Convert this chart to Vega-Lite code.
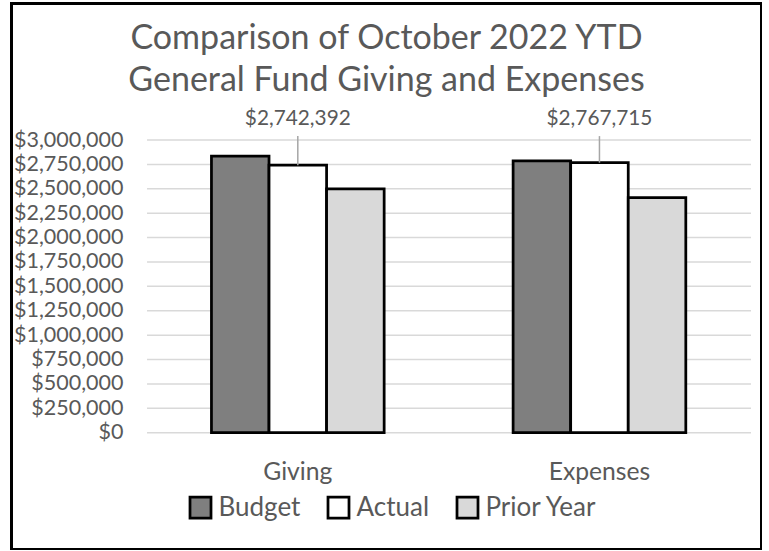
{
  "$schema": "https://vega.github.io/schema/vega-lite/v6.json",
  "autosize": {"type": "none"},
  "padding": {"left": 11.5, "top": 3.5, "right": 0, "bottom": 0},
  "width": 750,
  "height": 546,
  "background": "white",
  "config": {
    "view": {"stroke": "black", "strokeWidth": 3},
    "font": "Lato"
  },
  "title": {
    "text": ["Comparison of October 2022 YTD", "General Fund Giving and Expenses"],
    "fontSize": 34,
    "font": "Lato",
    "fontWeight": "normal",
    "color": "#595959",
    "lineHeight": 42,
    "anchor": "middle",
    "frame": "group",
    "baseline": "alphabetic",
    "offset": -121
  },
  "datasets": {
    "bars": [
      {"category": "Giving", "series": "Budget", "amount": 2836000},
      {"category": "Giving", "series": "Actual", "amount": 2742392},
      {"category": "Giving", "series": "Prior Year", "amount": 2500000},
      {"category": "Expenses", "series": "Budget", "amount": 2785000},
      {"category": "Expenses", "series": "Actual", "amount": 2767715},
      {"category": "Expenses", "series": "Prior Year", "amount": 2409000}
    ],
    "grid": [
      {"tick": 0}, {"tick": 250000}, {"tick": 500000}, {"tick": 750000},
      {"tick": 1000000}, {"tick": 1250000}, {"tick": 1500000}, {"tick": 1750000},
      {"tick": 2000000}, {"tick": 2250000}, {"tick": 2500000}, {"tick": 2750000},
      {"tick": 3000000}
    ]
  },
  "layer": [
    {
      "data": {"name": "grid"},
      "mark": {"type": "rule", "color": "#d9d9d9", "strokeWidth": 1.5},
      "encoding": {
        "y": {
          "field": "tick",
          "type": "quantitative",
          "scale": {"domain": [-1197000, 4399000], "nice": false, "zero": false},
          "axis": {
            "values": [0, 250000, 500000, 750000, 1000000, 1250000, 1500000, 1750000, 2000000, 2250000, 2500000, 2750000, 3000000],
            "format": "$,.0f",
            "orient": "left",
            "offset": -111.5,
            "tickSize": 0,
            "ticks": false,
            "domain": false,
            "grid": false,
            "labelPadding": 0,
            "labelFontSize": 21.5,
            "labelFont": "Lato",
            "labelColor": "#595959",
            "title": null
          }
        },
        "x": {
          "datum": 0,
          "type": "quantitative",
          "scale": {"domain": [-0.2244, 1.0174], "nice": false, "zero": false},
          "axis": null
        },
        "x2": {"datum": 1}
      }
    },
    {
      "data": {"name": "bars"},
      "layer": [
        {
          "mark": {"type": "bar", "stroke": "black", "strokeWidth": 2.75},
          "encoding": {
            "x": {
              "field": "category",
              "type": "nominal",
              "sort": ["Giving", "Expenses"],
              "scale": {"domain": ["Giving", "Expenses"], "paddingInner": 0.4275, "paddingOuter": 0.4569, "align": 0.7254},
              "axis": {
                "orient": "bottom",
                "offset": -70.2,
                "title": null,
                "labelAngle": 0,
                "labelBaseline": "alphabetic",
                "labelPadding": 0,
                "tickSize": 0,
                "ticks": false,
                "domain": false,
                "grid": false,
                "labelFontSize": 24.7,
                "labelFont": "Lato",
                "labelColor": "#595959"
              }
            },
            "xOffset": {
              "field": "series",
              "type": "nominal",
              "sort": ["Budget", "Actual", "Prior Year"],
              "scale": {"domain": ["Budget", "Actual", "Prior Year"], "paddingInner": 0, "paddingOuter": 0}
            },
            "y": {
              "field": "amount",
              "type": "quantitative",
              "scale": {"domain": [-1197000, 4399000], "nice": false, "zero": false}
            },
            "y2": {"datum": 0},
            "fill": {
              "field": "series",
              "type": "nominal",
              "sort": ["Budget", "Actual", "Prior Year"],
              "scale": {"domain": ["Budget", "Actual", "Prior Year"], "range": ["#7f7f7f", "#ffffff", "#d9d9d9"]},
              "legend": {
                "orient": "none",
                "legendX": 176,
                "legendY": 491,
                "direction": "horizontal",
                "title": null,
                "symbolType": "square",
                "symbolSize": 441,
                "symbolStrokeColor": "black",
                "symbolStrokeWidth": 2.75,
                "symbolOpacity": 1,
                "labelFontSize": 26,
                "labelFont": "Lato",
                "labelColor": "#595959",
                "labelOffset": 5,
                "columnPadding": 22,
                "padding": 0
              }
            }
          }
        },
        {
          "transform": [{"filter": "datum.series === 'Actual'"}],
          "mark": {"type": "rule", "color": "#a6a6a6", "strokeWidth": 1.5},
          "encoding": {
            "x": {"field": "category", "type": "nominal", "sort": ["Giving", "Expenses"]},
            "xOffset": {"field": "series", "type": "nominal", "sort": ["Budget", "Actual", "Prior Year"]},
            "y": {"field": "amount", "type": "quantitative"},
            "y2": {"datum": 3040000}
          }
        },
        {
          "transform": [{"filter": "datum.series === 'Actual'"}],
          "mark": {"type": "text", "fontSize": 20.8, "font": "Lato", "color": "#595959", "baseline": "alphabetic", "align": "center"},
          "encoding": {
            "x": {"field": "category", "type": "nominal", "sort": ["Giving", "Expenses"]},
            "xOffset": {"field": "series", "type": "nominal", "sort": ["Budget", "Actual", "Prior Year"]},
            "y": {"datum": 3149000, "type": "quantitative"},
            "text": {"field": "amount", "type": "quantitative", "format": "$,.0f"}
          }
        }
      ]
    }
  ],
  "resolve": {"scale": {"x": "independent"}}
}
